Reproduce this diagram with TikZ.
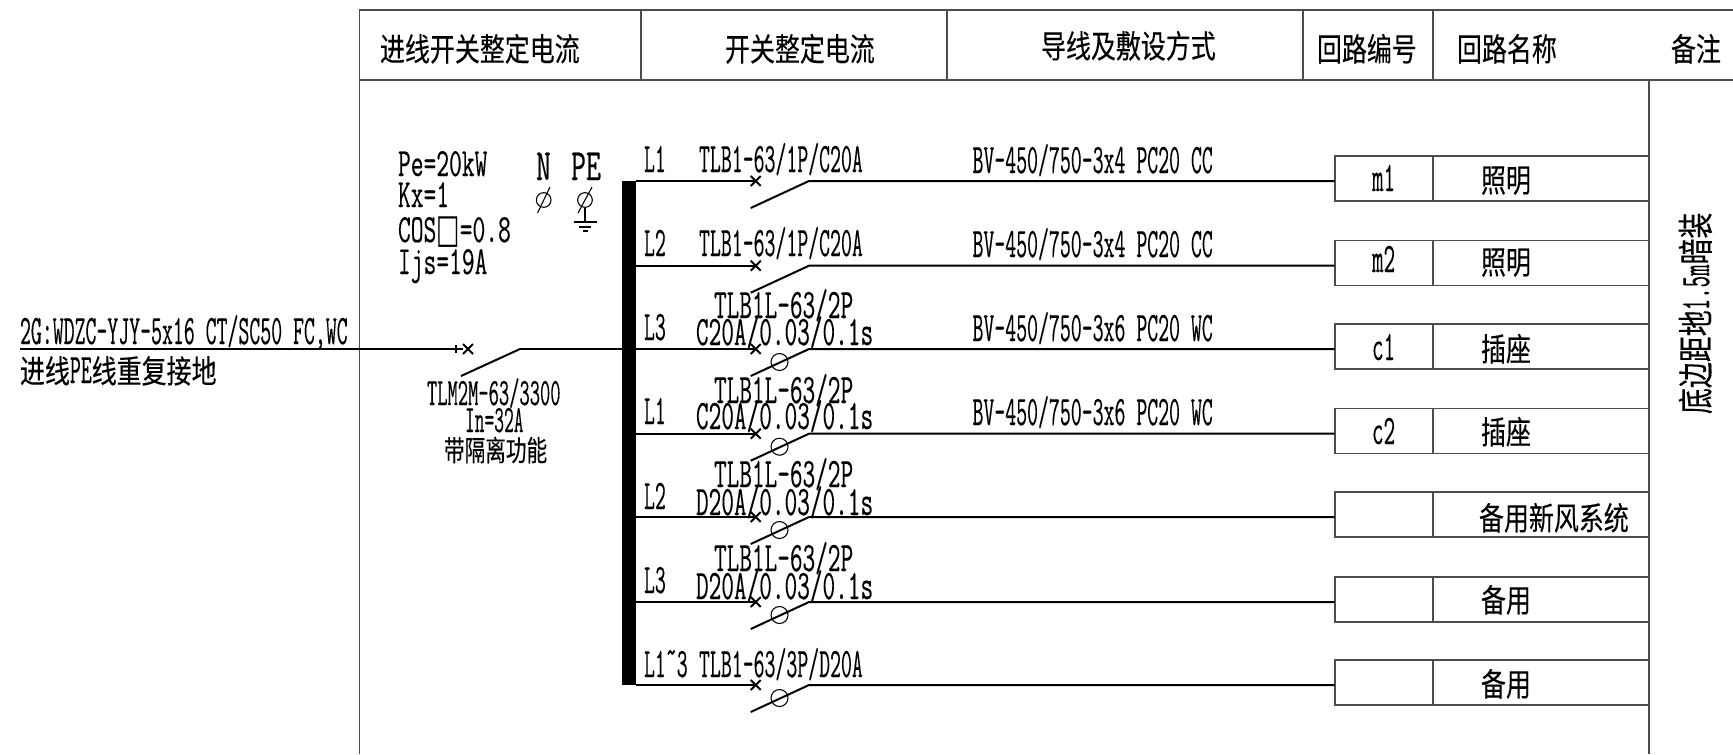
\documentclass[tikz,border=0pt]{standalone}
\usepackage{fontspec}
\newfontfamily\cjkf[FakeBold=0.25]{Noto Sans CJK SC}
\newfontfamily\symf{DejaVu Sans}
\newfontfamily\latf[FakeBold=0.35]{Latin Modern Mono}
\newcommand\Lt[3]{\scalebox{#1}[1]{\fontsize{#2pt}{#2pt}\selectfont\latf #3}}
\newcommand\Cj[3]{\scalebox{#1}[1]{\fontsize{#2pt}{#2pt}\selectfont\cjkf #3}}
\newcommand\LA[1]{\Lt{.505}{31.5}{#1}}
\newcommand\LB[1]{\Lt{.585}{31.5}{#1}}
\newcommand\LP[1]{\Lt{.62}{30}{#1}}
\newcommand\LN[1]{\Lt{.65}{33.5}{#1}}
\newcommand\LM[1]{\Lt{.535}{31.5}{#1}}
\newcommand\CH[1]{\Cj{.78}{24}{#1}}
\tikzset{
  x=.75pt,y=-.75pt,
  txt/.style={inner sep=0pt,outer sep=0pt,anchor=base west},
  grid/.style={draw=black!70,line width=.8pt},
  wire/.style={draw=black,line width=1.5pt},
  thin wire/.style={draw=black,line width=1.1pt},
  symb/.style={draw=black,line width=.8pt},
  cella/.style={grid,inner sep=0pt,minimum width=73.5pt,minimum height=33.75pt},
  cellb/.style={grid,inner sep=0pt,minimum width=162pt,minimum height=33.75pt},
}
\begin{document}
\begin{tikzpicture}
\useasboundingbox (0,0) rectangle (1733,754);
\fill[white] (0,0) rectangle (1733,754);
% frame
\coordinate (fa) at (359.5,10);
\coordinate (fb) at (359.5,754);
\coordinate (fc) at (1733,10);
\coordinate (fd) at (1733,80);
\coordinate (fe) at (1649,80);
\coordinate (ff) at (1649,754);
\coordinate (fg) at (359.5,80);
\draw[grid] (fb) -- (fa) -- (fc);
\draw[grid] (fg) -- (fd);
\draw[grid] (fe) -- (ff);
\foreach \n/\xx in {h1/641,h2/947,h3/1303,h4/1433}{
  \coordinate (\n a) at (\xx,10);
  \coordinate (\n b) at (\xx,80);
  \draw[grid] (\n a) -- (\n b);
}
% header text
\node[txt] (t1) at (380,61) {\CH{进线开关整定电流}};
\node[txt] (t2) at (725,61) {\CH{开关整定电流}};
\node[txt] (t3) at (1041,58) {\CH{导线及敷设方式}};
\node[txt] (t4) at (1317,61) {\CH{回路编号}};
\node[txt] (t5) at (1457,61) {\CH{回路名称}};
\node[txt] (t6) at (1671,61) {\CH{备注}};
% busbar
\node[fill=black,inner sep=0pt,minimum width=10.5pt,minimum height=378pt] (bus) at (629,433) {};
% circuit rows
\foreach \i/\y in {1/181,2/265.7,3/349,4/433.7,5/517,6/602,7/685}{
  \coordinate (cr\i) at (757,\y);
  \coordinate (xa\i) at (750.7,\y-5);
  \coordinate (xb\i) at (760.7,\y+5);
  \coordinate (xc\i) at (750.7,\y+5);
  \coordinate (xd\i) at (760.7,\y-5);
  \coordinate (sl\i) at (750.7,\y+27);
  \coordinate (sr\i) at (809,\y);
  \node[cella] (ca\i) at (1384,\y-2.5) {};
  \node[cellb] (cb\i) at (1541,\y-2.5) {};
  \coordinate (cw\i) at (ca\i.west |- sr\i);
  \draw[wire] (bus.east |- cr\i) -- (cr\i);
  \draw[wire] (xa\i) -- (xb\i);
  \draw[wire] (xc\i) -- (xd\i);
  \draw[wire] (sl\i) -- (sr\i) -- (cw\i);
}
\foreach \i/\y in {3/349,4/433.7,5/517,6/602,7/685}{
  \node[circle,draw=black,line width=.8pt,inner sep=0pt,minimum size=12.75pt] (rc\i) at (779.5,\y+13) {};
}
% incoming line
\coordinate (ia) at (20,349);
\coordinate (ib) at (463,349);
\coordinate (ic) at (520,349);
\coordinate (id) at (461,376);
\coordinate (ie) at (456,345);
\coordinate (if) at (456,353);
\coordinate (ig) at (463,344);
\coordinate (ih) at (473,354);
\coordinate (ii) at (463,354);
\coordinate (ij) at (473,344);
\draw[wire] (ia) -- (ib);
\draw[wire] (ie) -- (if);
\draw[wire] (ig) -- (ih);
\draw[wire] (ii) -- (ij);
\draw[wire] (id) -- (ic);
\draw[thin wire] (ic) -- (bus.west |- ic);
\node[txt] (in1) at (20,344) {\LA{2G:WDZC-YJY-5x16 CT/SC50 FC,WC}};
\node[txt] (in2) at (20,383) {\CH{进线}\LA{PE}\CH{线重复接地}};
\node[txt] (br1) at (427,405) {\Lt{.516}{29}{TLM2M-63/3300}};
\node[txt] (br2) at (465,432) {\Lt{.49}{29}{In=32A}};
\node[txt] (br3) at (444,461) {\Cj{.72}{21.5}{带隔离功能}};
% load data
\node[txt] (p1) at (398,176) {\LP{Pe=20kW}};
\node[txt] (p2) at (398,207) {\LP{Kx=1}};
\node[txt] (p3) at (398,242) {\LP{COS{\symf □}=0.8}};
\node[txt] (p4) at (398,274) {\LP{Ijs=19A}};
\node[txt] (pn) at (536,180) {\LN{N}};
\node[txt] (pe) at (571,180) {\LN{PE}};
% N and PE terminals
\node[circle,symb,inner sep=0pt,minimum size=11pt] (tn) at (543.7,200) {};
\coordinate (tna) at (550,187);
\coordinate (tnb) at (537.5,213);
\draw[symb] (tna) -- (tnb);
\node[circle,symb,inner sep=0pt,minimum size=11pt] (tp) at (585,200) {};
\coordinate (tpa) at (592,187);
\coordinate (tpb) at (578,213);
\draw[symb] (tpa) -- (tpb);
\coordinate (g0) at (585,222);
\coordinate (g1a) at (573.5,222);
\coordinate (g1b) at (597,222);
\coordinate (g2a) at (579,227);
\coordinate (g2b) at (591,227);
\coordinate (g3a) at (583,231);
\coordinate (g3b) at (588,231);
\draw[symb] (tp.south) -- (g0);
\draw[symb] (g1a) -- (g1b);
\draw[symb] (g2a) -- (g2b);
\draw[symb] (g3a) -- (g3b);
% phase labels
\node[txt] (l1) at (644,172) {\LA{L1}};
\node[txt] (l2) at (644,256) {\LA{L2}};
\node[txt] (l3) at (644,340) {\LA{L3}};
\node[txt] (l4) at (644,424) {\LA{L1}};
\node[txt] (l5) at (644,509) {\LA{L2}};
\node[txt] (l6) at (644,593) {\LA{L3}};
\node[txt] (l7) at (644,677) {\LA{L1\raisebox{.28em}{\string~}3}};
% breakers
\node[txt] (b1) at (699,172) {\LA{TLB1-63/1P/C20A}};
\node[txt] (b2) at (699,256) {\LA{TLB1-63/1P/C20A}};
\node[txt] (b3a) at (714,318) {\LB{TLB1L-63/2P}};
\node[txt] (b3b) at (696,345) {\LB{C20A/0.03/0.1s}};
\node[txt] (b4a) at (714,403) {\LB{TLB1L-63/2P}};
\node[txt] (b4b) at (696,429) {\LB{C20A/0.03/0.1s}};
\node[txt] (b5a) at (714,487) {\LB{TLB1L-63/2P}};
\node[txt] (b5b) at (696,515) {\LB{D20A/0.03/0.1s}};
\node[txt] (b6a) at (714,571) {\LB{TLB1L-63/2P}};
\node[txt] (b6b) at (696,599) {\LB{D20A/0.03/0.1s}};
\node[txt] (b7) at (699,677) {\LA{TLB1-63/3P/D20A}};
% cables
\node[txt] (w1) at (972.5,173) {\LA{BV-450/750-3x4 PC20 CC}};
\node[txt] (w2) at (972.5,257) {\LA{BV-450/750-3x4 PC20 CC}};
\node[txt] (w3) at (972.5,341) {\LA{BV-450/750-3x6 PC20 WC}};
\node[txt] (w4) at (972.5,425) {\LA{BV-450/750-3x6 PC20 WC}};
% circuit ids
\node[txt] (m1) at (1372,191) {\LM{m1}};
\node[txt] (m2) at (1372,272) {\LM{m2}};
\node[txt] (c1) at (1372,360) {\LM{c1}};
\node[txt] (c2) at (1372,444) {\LM{c2}};
% circuit names
\node[txt] (n1) at (1481,192) {\CH{照明}};
\node[txt] (n2) at (1481,274) {\CH{照明}};
\node[txt] (n3) at (1481,361) {\CH{插座}};
\node[txt] (n4) at (1481,444) {\CH{插座}};
\node[txt] (n5) at (1479,530) {\CH{备用新风系统}};
\node[txt] (n6) at (1481,612) {\CH{备用}};
\node[txt] (n7) at (1481,696) {\CH{备用}};
% remark
\node[txt,rotate=90] (rem) at (1709,414) {\Cj{.72}{27}{底边距地}\Lt{.53}{31.5}{1.5m}\Cj{.72}{27}{暗装}};
\end{tikzpicture}
\end{document}
